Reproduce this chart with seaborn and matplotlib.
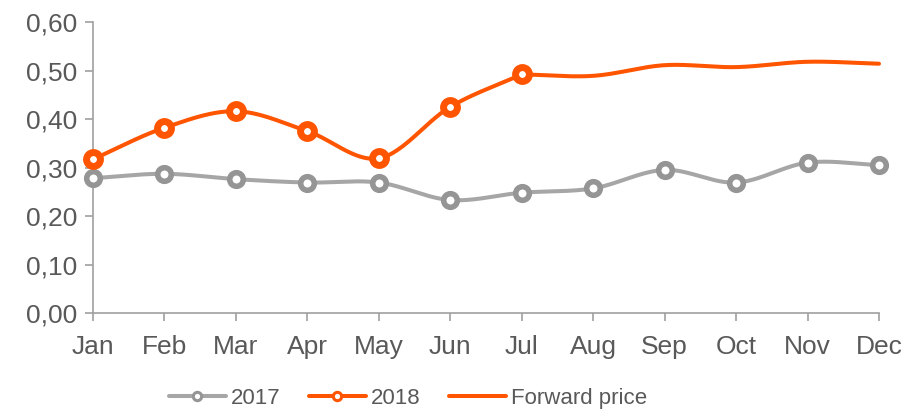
import numpy as np
import pandas as pd
import matplotlib
matplotlib.use('Agg')
import matplotlib.pyplot as plt
from matplotlib.lines import Line2D
import seaborn as sns

# Values
months = ['Jan', 'Feb', 'Mar', 'Apr', 'May', 'Jun', 'Jul', 'Aug', 'Sep', 'Oct', 'Nov', 'Dec']
price_2017 = [0.278, 0.287, 0.276, 0.269, 0.269, 0.233, 0.248, 0.257, 0.295, 0.269, 0.310, 0.305]
price_2018 = [0.317, 0.382, 0.416, 0.375, 0.319, 0.425, 0.492]
forward_months = ['Jul', 'Aug', 'Sep', 'Oct', 'Nov', 'Dec']
forward_price = [0.492, 0.489, 0.511, 0.507, 0.518, 0.514]
y_ticks = [0.0, 0.1, 0.2, 0.3, 0.4, 0.5, 0.6]

GREY = '#A6A6A6'
GREY_MK = '#959595'
ORANGE = '#FF5500'
TEXT = '#595959'


def smooth(xs, ys, n=30):
    """Catmull-Rom curve through the points, like a smoothed spreadsheet line."""
    xs = np.asarray(xs, float)
    ys = np.asarray(ys, float)
    px = np.concatenate([[2 * xs[0] - xs[1]], xs, [2 * xs[-1] - xs[-2]]])
    py = np.concatenate([[2 * ys[0] - ys[1]], ys, [2 * ys[-1] - ys[-2]]])
    out_x, out_y = [], []
    t = np.linspace(0, 1, n, endpoint=False)
    for i in range(1, len(px) - 2):
        for arr, out in ((px, out_x), (py, out_y)):
            p0, p1, p2, p3 = arr[i - 1], arr[i], arr[i + 1], arr[i + 2]
            out.extend(0.5 * (2 * p1 + (-p0 + p2) * t
                              + (2 * p0 - 5 * p1 + 4 * p2 - p3) * t ** 2
                              + (-p0 + 3 * p1 - 3 * p2 + p3) * t ** 3))
    out_x.append(xs[-1])
    out_y.append(ys[-1])
    return pd.DataFrame({'x': out_x, 'y': out_y})


sns.set_theme(style='white')
plt.rcParams['font.family'] = ['Liberation Sans', 'DejaVu Sans']

fig = plt.figure(figsize=(9.07, 4.11), dpi=100)
ax = fig.add_axes([93 / 907, 1 - 313 / 411, (879 - 93) / 907, (313 - 22) / 411])

x17 = np.arange(len(months))
x18 = np.arange(len(price_2018))
xfw = np.array([months.index(m) for m in forward_months])

lw = 2.9
sns.lineplot(data=smooth(x17, price_2017), x='x', y='y', sort=False, ax=ax,
             color=GREY, lw=lw, clip_on=False)
sns.lineplot(data=smooth(xfw, forward_price), x='x', y='y', sort=False, ax=ax,
             color=ORANGE, lw=lw, clip_on=False)
sns.lineplot(data=smooth(x18, price_2018), x='x', y='y', sort=False, ax=ax,
             color=ORANGE, lw=lw, clip_on=False)

ax.plot(x17, price_2017, ls='none', marker='o', ms=9.8, mew=4.0,
        mfc='white', mec=GREY_MK, clip_on=False, zorder=5)
ax.plot(x18, price_2018, ls='none', marker='o', ms=10.0, mew=5.0,
        mfc='white', mec=ORANGE, clip_on=False, zorder=6)

ax.set_xlim(0, 11)
ax.set_ylim(0, 0.6)
ax.set_xticks(x17)
ax.set_xticklabels(months)
ax.set_yticks(y_ticks)
ax.set_yticklabels([f'{v:.2f}'.replace('.', ',') for v in y_ticks])
ax.set_xlabel('')
ax.set_ylabel('')

for side in ('top', 'right'):
    ax.spines[side].set_visible(False)
for side in ('left', 'bottom'):
    ax.spines[side].set_color('#A0A0A0')
    ax.spines[side].set_linewidth(1.2)
ax.tick_params(axis='both', direction='out', length=6, width=1.2, color='#A0A0A0',
               labelsize=19, labelcolor=TEXT)
ax.tick_params(axis='x', pad=10, bottom=True)
ax.tick_params(axis='y', pad=5, left=True)

handles = [
    Line2D([], [], color=GREY, lw=lw, marker='o', ms=6, mew=2.2, mfc='white', mec=GREY_MK),
    Line2D([], [], color=ORANGE, lw=lw, marker='o', ms=6, mew=2.2, mfc='white', mec=ORANGE),
    Line2D([], [], color=ORANGE, lw=lw),
]
fig.legend(handles, ['2017', '2018', 'Forward price'], loc='center',
           bbox_to_anchor=(408 / 907, 1 - 398 / 411), ncol=3, frameon=False,
           fontsize=16, labelcolor=TEXT, handlelength=2.55, handletextpad=0.22,
           columnspacing=1.3, borderpad=0)

fig.savefig('out.png', dpi=100)
